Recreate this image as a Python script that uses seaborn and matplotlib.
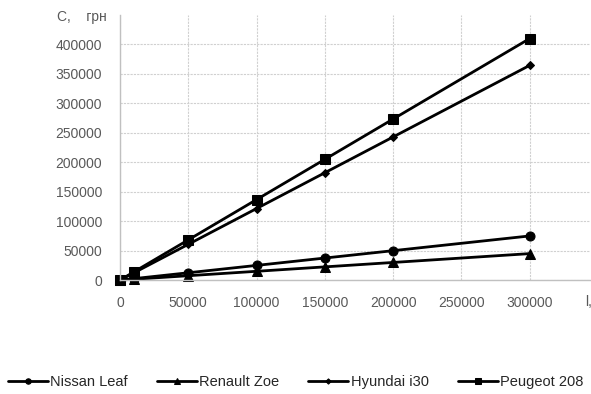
import matplotlib
matplotlib.use("Agg")
import matplotlib.pyplot as plt
import seaborn as sns
import pandas as pd

distance = [0, 10000, 50000, 100000, 150000, 200000, 300000]
nissan_leaf = [0, 2500, 12500, 25000, 37500, 50000, 75000]
renault_zoe = [0, 1500, 7500, 15000, 22500, 30000, 45000]
hyundai_i30 = [0, 12150, 60750, 121500, 182250, 243000, 364500]
peugeot_208 = [0, 13700, 68300, 136700, 205000, 273400, 410000]
series_names = ["Nissan Leaf", "Renault Zoe", "Hyundai i30", "Peugeot 208"]
x_ticks = [0, 50000, 100000, 150000, 200000, 250000, 300000]
y_ticks = [0, 50000, 100000, 150000, 200000, 250000, 300000, 350000, 400000]

rows = []
for name, vals in zip(series_names, [nissan_leaf, renault_zoe, hyundai_i30, peugeot_208]):
    for d, v in zip(distance, vals):
        rows.append({"l": d, "C": v, "car": name})
df = pd.DataFrame(rows)

sns.set_style("white")
plt.rcParams['font.family'] = ['Liberation Sans', 'DejaVu Sans']

fig = plt.figure(figsize=(5.91, 3.94), dpi=100)
ax = fig.add_axes([0.203, 0.289, 0.795, 0.673])

markers = {"Nissan Leaf": "o", "Renault Zoe": "^", "Hyundai i30": "D", "Peugeot 208": "s"}
msizes = {"Nissan Leaf": 6.5, "Renault Zoe": 7, "Hyundai i30": 4.5, "Peugeot 208": 7}
for name in series_names:
    sub = df[df["car"] == name]
    sns.lineplot(data=sub, x="l", y="C", ax=ax, color="black", linewidth=2,
                 marker=markers[name], markersize=msizes[name],
                 markeredgecolor="black", markerfacecolor="black",
                 label=name, legend=False, clip_on=False)

ax.set_xlim(0, 344000)
ax.set_ylim(0, 450000)
ax.set_xticks(x_ticks)
ax.set_yticks(y_ticks)
ax.set_xticklabels([str(t) for t in x_ticks])
ax.set_yticklabels([str(t) for t in y_ticks])
ax.tick_params(axis="both", colors="#595959", labelsize=10, length=0)
ax.tick_params(axis="y", pad=13)
ax.tick_params(axis="x", pad=11.5)
ax.set_xlabel("")
ax.set_ylabel("")
ax.grid(True, color="#d0d0d0", linestyle=(0, (2, 1)), linewidth=0.8)
for s in ["top", "right"]:
    ax.spines[s].set_visible(False)
for s in ["left", "bottom"]:
    ax.spines[s].set_color("#c0c0c0")
    ax.spines[s].set_linewidth(1)

fig.text(57/591, 1 - 17/394, "C,    грн", fontsize=10, color="#595959", va="center", ha="left")
fig.text(585/591, 1 - 302/394, "l,", fontsize=10, color="#595959", va="center", ha="left")

handles, labels = ax.get_legend_handles_labels()
fig.legend(handles, labels, loc="center", bbox_to_anchor=(0.5, 1 - 382/394), ncol=4,
           frameon=False, fontsize=10.5, handlelength=2.75, handletextpad=0.15,
           columnspacing=2.0, borderaxespad=0, markerscale=0.6)

fig.savefig("out.png", dpi=100)
